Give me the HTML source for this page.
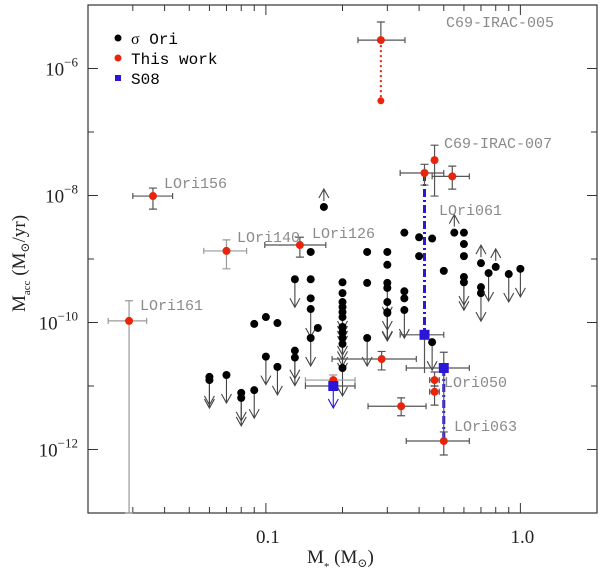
<!DOCTYPE html>
<html><head><meta charset="utf-8"><style>
body{margin:0;background:#fff;}
svg{display:block;}
.mono{font-family:"Liberation Mono","DejaVu Sans Mono",monospace;}
.serif{font-family:"Liberation Serif","DejaVu Serif",serif;}
</style></head><body>
<svg id="chart" width="600" height="575" viewBox="0 0 600 575" xmlns="http://www.w3.org/2000/svg">
<rect x="88" y="5" width="509" height="508" fill="none" stroke="#333" stroke-width="1.2"/>
<g id="ticks"></g>
<g id="marks"></g>
<g font-size="16" fill="#000" class="mono">
<circle cx="118" cy="38" r="3.5" fill="#000"/>
<text x="131" y="44"><tspan class="serif">σ</tspan> Ori</text>
<circle cx="118" cy="58" r="3.5" fill="#e8250c"/>
<text x="131" y="64">This work</text>
<rect x="115" y="75" width="6" height="6" fill="#2a16d6"/>
<text x="131" y="84">S08</text>
</g>
<g font-size="15" fill="#8a8a8a" class="mono">
<text x="446" y="27">C69-IRAC-005</text>
<text x="444" y="148">C69-IRAC-007</text>
<text x="164" y="188">LOri156</text>
<text x="237" y="242">LOri140</text>
<text x="312" y="238">LOri126</text>
<text x="439" y="215">LOri061</text>
<text x="140" y="310">LOri161</text>
<text x="444" y="387">LOri050</text>
<text x="454" y="431">LOri063</text>
</g>
<text x="307" y="563" class="serif" font-size="19" fill="#222">M<tspan font-size="11" dy="7">*</tspan><tspan dy="-7"> (M</tspan><tspan font-size="12" dy="4">⊙</tspan><tspan dy="-4">)</tspan></text>
<text transform="translate(25,312) rotate(-90)" class="serif" font-size="19" fill="#222">M<tspan font-size="11" dy="5">acc</tspan><tspan dy="-5"> (M</tspan><tspan font-size="12" dy="4">⊙</tspan><tspan dy="-4">/yr)</tspan></text>
</svg>
<script>
const blackMass=[0.060,0.060,0.070,0.080,0.080,0.090,0.090,0.100,0.111,0.100,0.111,0.130,0.130,0.169,0.150,0.150,0.150,0.150,0.150,0.160,0.130,0.200,0.200,0.200,0.200,0.200,0.200,0.200,0.200,0.200,0.200,0.200,0.25,0.25,0.25,0.30,0.30,0.30,0.30,0.30,0.30,0.30,0.35,0.35,0.35,0.35,0.40,0.40,0.45,0.50,0.45,0.55,0.60,0.60,0.60,0.60,0.60,0.70,0.70,0.70,0.75,0.80,0.90,1.0];
const blackMacc=[1.39e-11,1.24e-11,1.49e-11,7.8e-12,6.5e-12,8.6e-12,9.5e-11,1.22e-10,9.8e-11,2.9e-11,2.0e-11,3.6e-11,2.8e-11,6.6e-9,1.29e-9,4.8e-10,2.4e-10,1.63e-10,5.7e-11,8.2e-11,4.8e-10,4.3e-10,2.9e-10,2.1e-10,1.75e-10,1.46e-10,1.22e-10,8.5e-11,7.0e-11,5.7e-11,4.6e-11,1.92e-11,1.29e-9,4.2e-10,5.7e-11,1.29e-9,8.1e-10,4.2e-10,3.5e-10,2.1e-10,1.46e-10,1.41e-10,2.6e-9,3.1e-10,2.4e-10,1.57e-10,2.2e-9,1.11e-9,2.1e-9,6.5e-10,4.9e-11,2.6e-9,2.6e-9,1.72e-9,1.11e-9,5.2e-10,4.3e-10,8.6e-10,3.6e-10,2.9e-10,6.0e-10,7.5e-10,5.8e-10,7.0e-10];
const blackLimit=[-1,-1,-1,-1,-1,-1,0,0,0,-1,-1,-1,-1,1,0,0,0,-1,-1,0,-1,0,0,-1,-1,-1,-1,-1,-1,-1,-1,-1,0,0,-1,0,0,0,-1,-1,-1,-1,0,0,0,-1,0,0,0,0,-1,1,0,0,0,-1,-1,1,0,-1,-1,1,-1,-1];
const redMass=[0.283,0.036,0.070,0.136,0.029,0.46,0.42,0.54,0.285,0.46,0.46,0.34,0.50,0.184];
const redMacc=[2.8e-6,9.8e-9,1.34e-9,1.66e-9,1.06e-10,3.6e-8,2.26e-8,2.0e-8,2.66e-11,1.24e-11,8.1e-12,4.8e-12,1.36e-12,1.24e-11];
const redMassLo=[0.23,0.030,0.057,0.099,0.024,0.45,0.337,0.45,0.182,0.44,0.44,0.252,0.356,0.143];
const redMassHi=[0.352,0.043,0.084,0.172,0.034,0.47,0.50,0.63,0.39,0.48,0.48,0.426,0.63,0.224];
const redMaccLo=[3.1e-7,6.1e-9,7.0e-10,1.07e-9,1e-13,9.8e-9,1.46e-8,1.26e-8,1.79e-11,1.0e-11,5.0e-12,3.4e-12,8.2e-13,1.1e-11];
const redMaccHi=[5.4e-6,1.31e-8,2.0e-9,2.2e-9,2.2e-10,6.2e-8,3.1e-8,2.9e-8,3.5e-11,1.66e-11,1.0e-11,6.5e-12,1.89e-12,1.49e-11];
const blueMass=[0.42,0.50,0.184];
const blueMacc=[6.4e-11,1.92e-11,1.0e-11];
const blueMassLo=[0.337,0.356,0.143];
const blueMassHi=[0.50,0.63,0.224];
const blueMaccLo=[1.6e-11,1.36e-12,null];
const blueMaccHi=[null,3.4e-11,null];
const blueLimit=[0,0,-1];
const xTickLabels=["0.1","1.0"];
const xTickValues=[0.1,1.0];
const yTickExps=[-12,-10,-8,-6];

const NS="http://www.w3.org/2000/svg";
const X0=88,XD=254.5,Y0=513,YD=63.5;
function xs(m){return X0+(Math.log10(m)-Math.log10(0.02))*XD;}
function ys(v){return Y0-(Math.log10(v)+13)*YD;}
function mk(t,a,p){const e=document.createElementNS(NS,t);for(const k in a)e.setAttribute(k,a[k]);p.appendChild(e);return e;}
const T=document.getElementById('ticks'),M=document.getElementById('marks');
for(let d=-2;d<=0;d++){for(let k=1;k<=9;k++){const v=k*Math.pow(10,d);if(v<0.02||v>2.0001)continue;const x=xs(v);const L=(k===1)?10:6;
let t=mk('line',{x1:x,y1:513,x2:x,y2:513-L,stroke:'#333'},T);


t=mk('line',{x1:x,y1:5,x2:x,y2:5+L,stroke:'#333'},T);

}}
xTickValues.forEach((v,i)=>{const t=mk('text',{x:xs(v)+2,y:543,'text-anchor':'middle','font-size':19,fill:'#222','class':'serif'},T);t.textContent=xTickLabels[i];

});
for(let e=-13;e<=-5;e++){const y=ys(Math.pow(10,e));const L=(e%2===0)?10:6;
let t=mk('line',{x1:88,y1:y,x2:88+L,y2:y,stroke:'#333'},T);


t=mk('line',{x1:597,y1:y,x2:597-L,y2:y,stroke:'#333'},T);

}
yTickExps.forEach(e=>{const t=mk('text',{x:78,y:ys(Math.pow(10,e))+7,'text-anchor':'end','font-size':19,fill:'#222','class':'serif'},T);
t.innerHTML='10<tspan dy="-9" font-size="13">'+String(e).replace('-','−')+'</tspan>';

});
function arrow(x,y,dir,col,len){const y2=y+dir*len;
const g=mk('path',{d:`M${x},${y} L${x},${y2} M${x-5},${y2-dir*9} L${x},${y2} L${x+5},${y2-dir*9}`,stroke:col,'stroke-width':1.1,fill:'none'},M);

}
let ln=mk('line',{x1:xs(redMass[6]),y1:ys(redMacc[6]),x2:xs(blueMass[0]),y2:ys(blueMacc[0]),stroke:'#2a16d6','stroke-width':3,'stroke-dasharray':'8,3,2,3'},M);


ln=mk('line',{x1:xs(blueMass[1]),y1:ys(blueMacc[1]),x2:xs(redMass[12]),y2:ys(redMacc[12]),stroke:'#2a16d6','stroke-width':3,'stroke-dasharray':'8,3,2,3'},M);


blackMass.forEach((m,i)=>{const x=xs(m),y=ys(blackMacc[i]);
if(blackLimit[i]<0)arrow(x,y,1,'#444',28);if(blackLimit[i]>0)arrow(x,y-6,-1,'#444',12);
const c=mk('circle',{cx:x,cy:y,r:4,fill:'#000'},M);

});
function ebar(x1,y1,x2,y2,col,cap,horiz){const d=horiz?`M${x1},${y1}L${x2},${y2}M${x1},${y1-cap}L${x1},${y1+cap}M${x2},${y2-cap}L${x2},${y2+cap}`:`M${x1},${y1}L${x2},${y2}M${x1-cap},${y1}L${x1+cap},${y1}M${x2-cap},${y2}L${x2+cap},${y2}`;
const p=mk('path',{d:d,stroke:col,'stroke-width':1.2,fill:'none'},M);


return p;}
redMass.forEach((m,i)=>{const x=xs(m),y=ys(redMacc[i]);const col=(i===2||i===4||i===13)?'#999':'#555';
ebar(xs(redMassLo[i]),y,xs(redMassHi[i]),y,col,3,true);
if(i===0){ebar(x,ys(redMaccHi[i]),x,y,col,4,false);
const p=mk('line',{x1:x,y1:y,x2:x,y2:ys(redMaccLo[i]),stroke:'#e8250c','stroke-width':2,'stroke-dasharray':'2,3'},M);


const c=mk('circle',{cx:x,cy:ys(redMaccLo[i]),r:3.5,fill:'#e8250c'},M);

}
else ebar(x,ys(redMaccHi[i]),x,ys(redMaccLo[i]),col,4,false);
const c=mk('circle',{cx:x,cy:y,r:4,fill:'#e8250c'},M);

});
blueMass.forEach((m,i)=>{const x=xs(m),y=ys(blueMacc[i]);
ebar(xs(blueMassLo[i]),y,xs(blueMassHi[i]),y,'#555',3,true);
if(blueMaccLo[i]!==null){const p=mk('line',{x1:x,y1:y,x2:x,y2:ys(blueMaccLo[i]),stroke:'#555','stroke-width':1.2},M);

}
if(blueMaccHi[i]!==null){ebar(x,ys(blueMaccHi[i]),x,y,'#555',4,false);}
if(blueLimit[i]<0)arrow(x,y,1,'#2a16d6',22);
const r=mk('rect',{x:x-5,y:y-5,width:10,height:10,fill:'#2a16d6'},M);

});
</script>
</body></html>
